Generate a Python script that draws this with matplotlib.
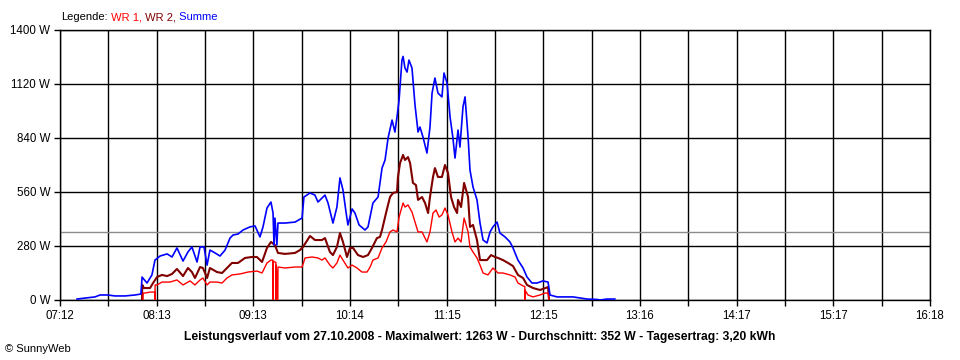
import numpy as np
import matplotlib.pyplot as plt

plt.rcParams['font.family'] = ['Liberation Sans', 'DejaVu Sans']

# Zeitachse in Minuten ab Mitternacht (07:12 .. 16:18)
t_start = 7 * 60 + 12
t_end = 16 * 60 + 18
x_labels = ['07:12', '08:13', '09:13', '10:14', '11:15', '12:15', '13:16', '14:17', '15:17', '16:18']
y_ticks = [0, 280, 560, 840, 1120, 1400]
y_labels = ['0 W', '280 W', '560 W', '840 W', '1120 W', '1400 W']
durchschnitt = 352

# Summe (blau)
summe_t = [442.7, 447.7, 454.0, 457.1, 462.1, 466.5, 472.8, 479.1, 482.8, 483.5,
           486.6, 489.7, 491.6, 494.8, 499.2, 502.3, 505.4, 509.2, 512.3, 514.8,
           518.0, 519.9, 522.4, 524.3, 526.1, 529.3, 532.4, 535.6, 538.7, 540.6,
           543.7, 546.9, 551.2, 554.4, 557.5, 559.4, 561.9, 564.4, 565.7, 566.3,
           566.9, 568.1, 568.8, 573.2, 579.5, 583.9, 585.1, 588.9, 592.0, 593.9,
           598.3, 600.2, 603.3, 605.8, 607.7, 609.6, 611.5, 612.7, 615.3, 617.1,
           619.7, 623.4, 625.3, 628.4, 631.6, 634.1, 636.0, 637.9, 640.4, 642.2,
           643.5, 644.8, 646.6, 647.3, 648.5, 649.8, 651.0, 652.9, 654.8, 656.7,
           657.9, 659.8, 662.3, 664.2, 665.5, 667.3, 669.2, 671.7, 673.0, 674.9,
           676.8, 678.6, 679.9, 681.8, 683.0, 684.9, 686.2, 688.1, 689.3, 691.2,
           693.7, 695.6, 697.5, 700.0, 701.9, 703.7, 706.3, 708.1, 711.3, 714.4,
           716.3, 719.4, 722.6, 725.1, 728.2, 731.4, 735.1, 738.3, 739.5, 743.9,
           754.0, 762.7, 769.0, 771.0, 775.2, 780.2]
summe_w = [5, 10, 16, 26, 26, 21, 21, 26, 31, 119,
           88, 130, 207, 228, 239, 223, 270, 202, 249, 275,
           197, 275, 275, 181, 259, 244, 228, 259, 321, 337,
           342, 363, 379, 384, 327, 379, 477, 508, 451, 285,
           425, 285, 399, 399, 404, 425, 534, 555, 544, 508,
           544, 503, 399, 482, 633, 570, 456, 389, 472, 451,
           389, 363, 379, 503, 534, 684, 726, 840, 933, 871,
           949, 1037, 1244, 1263, 1203, 1182, 1244, 1203, 1011, 871,
           897, 845, 762, 897, 1073, 1151, 1073, 1053, 1177, 1125,
           949, 840, 736, 881, 793, 1001, 1053, 845, 674, 586,
           519, 399, 311, 296, 353, 379, 404, 347, 327, 301,
           270, 207, 166, 119, 88, 88, 99, 93, 26, 16,
           16, 5, 3, 0, 5, 5]

# WR 2 (dunkelrot)
wr2_t = [483.5, 483.6, 484.7, 488.5, 490.4, 492.9, 496.0, 499.2, 502.3, 505.4,
         509.2, 512.3, 514.8, 516.7, 519.9, 521.7, 524.3, 526.1, 530.5, 533.7,
         536.8, 539.9, 543.7, 548.1, 552.5, 555.6, 558.8, 561.9, 564.4, 566.9,
         568.8, 573.2, 579.5, 582.6, 584.5, 588.9, 592.0, 596.4, 598.3, 601.4,
         603.3, 605.8, 607.7, 609.6, 612.1, 614.0, 615.9, 619.0, 622.2, 625.3,
         627.8, 630.9, 632.8, 634.1, 636.6, 639.1, 641.0, 643.5, 644.1, 645.4,
         647.3, 648.5, 650.4, 651.7, 653.5, 655.4, 656.7, 659.2, 661.1, 663.0,
         664.2, 666.1, 667.3, 669.2, 671.7, 673.6, 675.5, 677.4, 679.3, 681.2,
         681.8, 683.7, 685.6, 688.1, 689.3, 691.2, 693.7, 695.6, 700.0, 702.5,
         705.0, 706.9, 710.0, 713.2, 716.3, 719.4, 722.6, 725.1, 728.9, 733.2,
         738.3, 738.9]
wr2_w = [0, 78, 62, 62, 88, 119, 130, 124, 135, 161,
         124, 166, 145, 114, 171, 166, 114, 166, 145, 140,
         166, 192, 192, 218, 223, 223, 197, 270, 301, 285,
         244, 239, 244, 259, 275, 332, 311, 311, 321, 249,
         233, 275, 347, 301, 223, 270, 270, 233, 223, 233,
         270, 321, 327, 363, 451, 534, 555, 560, 638, 710,
         752, 726, 741, 710, 607, 596, 519, 534, 503, 451,
         534, 638, 684, 638, 638, 700, 659, 534, 482, 451,
         519, 482, 607, 534, 379, 389, 311, 207, 207, 233,
         223, 218, 207, 192, 176, 130, 114, 78, 62, 52,
         67, 0]

# WR 1 (rot)
wr1_t = [484.1, 484.2, 485.3, 488.5, 491.5, 491.6, 491.7, 492.9, 496.0, 501.0,
         505.4, 509.2, 513.6, 516.7, 519.9, 521.7, 524.3, 526.1, 530.5, 533.7,
         536.8, 539.9, 545.0, 550.0, 555.6, 558.8, 561.9, 564.4, 565.6, 565.7,
         565.8, 567.5, 567.6, 567.7, 568.7, 568.8, 573.2, 579.5, 583.9, 585.8,
         590.2, 593.9, 596.4, 598.3, 601.4, 603.3, 605.8, 607.7, 609.6, 612.7,
         615.3, 618.4, 621.5, 624.7, 626.6, 628.4, 631.6, 634.1, 636.6, 639.1,
         641.0, 643.5, 644.8, 647.3, 648.5, 650.4, 652.9, 654.8, 656.7, 659.2,
         662.3, 664.2, 666.1, 668.0, 669.9, 671.7, 673.6, 675.5, 678.0, 679.9,
         681.8, 683.7, 685.6, 688.1, 689.3, 691.2, 693.7, 695.6, 697.5, 700.6,
         703.7, 706.9, 710.0, 714.4, 717.6, 719.4, 722.6, 723.7, 723.8, 723.9,
         725.7, 728.9, 733.2, 736.4, 738.3, 738.9]
wr1_w = [0, 36, 36, 41, 41, 0, 78, 78, 93, 93,
         104, 78, 99, 78, 104, 114, 78, 93, 93, 88,
         114, 130, 135, 145, 150, 140, 192, 207, 207, 0,
         200, 195, 0, 180, 0, 171, 166, 171, 171, 218,
         223, 218, 207, 218, 181, 166, 192, 233, 207, 166,
         181, 166, 145, 145, 171, 207, 218, 270, 301, 353,
         363, 353, 430, 503, 482, 493, 456, 404, 353, 353,
         301, 353, 451, 467, 430, 441, 477, 441, 353, 301,
         321, 301, 425, 353, 275, 249, 218, 181, 140, 130,
         166, 140, 140, 130, 119, 88, 73, 70, 0, 50,
         26, 16, 26, 36, 36, 0]

titel = ('Leistungsverlauf vom 27.10.2008 - Maximalwert: 1263 W - '
         'Durchschnitt: 352 W - Tagesertrag: 3,20 kWh')

fig = plt.figure(figsize=(9.6, 3.6), dpi=100)
ax = fig.add_axes([60 / 960, 60 / 360, 870 / 960, 270 / 360])

ax.set_xlim(t_start, t_end)
ax.set_ylim(0, 1400)

major = np.linspace(t_start, t_end, len(x_labels))
minor = np.linspace(t_start, t_end, 2 * len(x_labels) - 1)
ax.set_xticks(major)
ax.set_xticklabels(x_labels)
ax.set_xticks(minor, minor=True)
ax.set_yticks(y_ticks)
ax.set_yticklabels(y_labels)
ax.tick_params(which='both', direction='out', length=4, width=1, color='black',
               labelsize=8.3, pad=3)

# Gitter
ax.set_axisbelow(True)
ax.grid(True, which='both', color='black', linewidth=1)
for s in ax.spines.values():
    s.set_color('black')
    s.set_linewidth(1)

# Durchschnittslinie
ax.axhline(durchschnitt, color='#8c8c8c', linewidth=1, zorder=1)

ax.plot(wr2_t, wr2_w, color='#800000', linewidth=1.5, zorder=2)
ax.plot(wr1_t, wr1_w, color='#ff0000', linewidth=1.0, zorder=3)
ax.plot(summe_t, summe_w, color='#0000ff', linewidth=1.2, zorder=4)

# Legende oben
leg = fig.text(61 / 960, 1 - 17 / 360, 'Legende:', fontsize=8, va='center', color='black')
prev = leg
for txt, col in [(' WR 1,', '#ff0000'), (' WR 2,', '#800000'), (' Summe', '#0000ff')]:
    prev = ax.annotate(txt, xy=(1, 0), xycoords=prev, va='bottom', ha='left',
                       fontsize=8, color=col, annotation_clip=False)

fig.text(0.5, 1 - 337 / 360, titel, ha='center', va='center', fontsize=8.7, fontweight='bold')
fig.text(5 / 960, 1 - 349 / 360, '\u00a9 SunnyWeb', ha='left', va='center', fontsize=8)

fig.savefig('out.png', dpi=100)
